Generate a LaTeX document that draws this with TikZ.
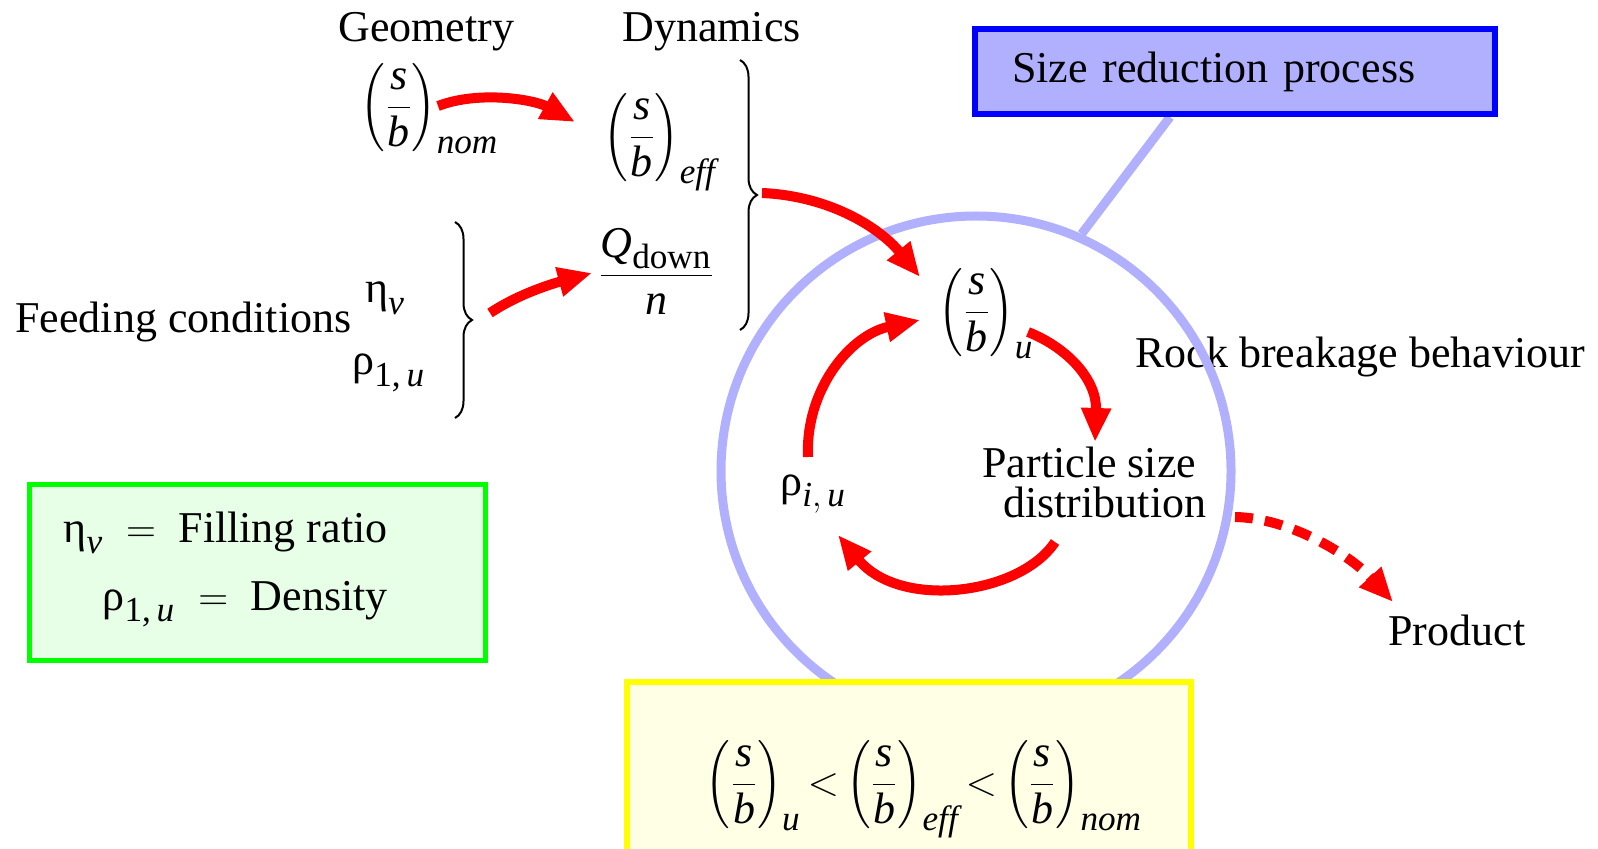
\documentclass[tikz,border=0pt]{standalone}
\usepackage{amsmath}
\usepackage{graphicx}
\usepackage[no-math]{fontspec}
\setmainfont{Liberation Serif}
\newfontfamily\tms{Liberation Serif}
\usetikzlibrary{arrows.meta,decorations.pathreplacing}
\DeclareMathSizes{22}{22}{17.6}{13.2}
\definecolor{rockblue}{RGB}{176,176,255}
\definecolor{boxblue}{RGB}{0,0,255}
\definecolor{lgreen}{RGB}{230,255,230}
\definecolor{bgreen}{RGB}{0,255,0}
\definecolor{lyellow}{RGB}{255,255,230}
\definecolor{byellow}{RGB}{255,255,0}
\newcommand{\mi}[1]{\text{\tms\itshape #1}}
\newcommand{\mr}[1]{\text{\tms #1}}
\newcommand{\lpar}{\vcenter{\hbox{\scalebox{1}[1.18]{$\Bigl($}}}}
\newcommand{\rpar}{\vcenter{\hbox{\scalebox{1}[1.18]{$\Bigr)$}}}}
\newcommand{\sbfrac}{\mathopen{\lpar}\dfrac{\mi{s}}{\mi{b}}\mathclose{\rpar}}
\begin{document}
\begin{tikzpicture}[x=0.5pt,y=-0.5pt,
  every node/.style={font=\tms\fontsize{22}{26.4}\selectfont, inner sep=0pt},
  redarrow/.style={draw=red, line width=5pt, -{Triangle[length=17pt,width=14pt]}},
  reddash/.style={redarrow, dash pattern=on 9pt off 6pt},
  bracestyle/.style={decorate, decoration={brace, amplitude=8.5pt}, line width=1pt},
  txt/.style={anchor=base west}]
\useasboundingbox (0,0) rectangle (1598,849);

% texts
\node[txt] (geo) at (338,42) {Geometry};
\node[txt] (dyn) at (622,42) {Dynamics};
\node[txt] (nom) at (360,118) {$\sbfrac_{\mi{nom}}$};
\node[txt] (eff) at (603,148) {$\sbfrac_{\mi{eff}}$};
\node[anchor=base] (qdn) at (656,286) {$\dfrac{\mi{Q}_{\mr{down}}}{\mi{n}}$};
\node[txt] (feed) at (15,333) {Feeding conditions};
\node[txt] (eta) at (365,303) {$\mr{η}_{\mi{v}}$};
\node[txt] (rho1) at (352,375) {$\mr{ρ}_{\mr{1,}\,\mi{u}}$};
\node[txt] (sbu) at (938,323) {$\sbfrac_{\mi{u}}$};
\node[txt] (rhoi) at (780,495) {$\mr{ρ}_{\mi{i},\,\mi{u}}$};
\node[txt] (psd1) at (982,477) {Particle size};
\node[txt] (psd2) at (1003,517) {distribution};
\node[txt] (rock) at (1135,368) {Rock breakage behaviour};
\node[txt] (prod) at (1388,645) {Product};

% braces
\draw[bracestyle] (740,60) -- (740,330);
\draw[bracestyle] (455,222) -- (455,418);

% circle and process box
\node[circle, draw=rockblue, line width=4.5pt, minimum size=255pt] (rb) at (976,471) {};
\draw[rockblue, line width=4.5pt] ([xshift=-32.5pt]1235,117) -- (rb.66);
\node[draw=boxblue, fill=rockblue, line width=3pt, minimum width=260pt, minimum height=42.5pt,
      text width=223pt, align=left, inner xsep=18.5pt] (srp) at (1235,71.5) {Size reduction process};

% legend box
\node[draw=bgreen, fill=lgreen, line width=2.5pt, minimum width=228pt, minimum height=88pt] (legend) at (257.5,572.5) {};
\node[anchor=base east] (leg1) at (388,542) {$\mr{η}_{\mi{v}}\;=\;$ Filling ratio};
\node[anchor=base east] (leg2) at (388,610) {$\mr{ρ}_{\mr{1,}\,\mi{u}}\;=\;$ Density};

% inequality box
\node[draw=byellow, fill=lyellow, line width=3pt, minimum width=282pt, minimum height=100pt, anchor=north] (ineqbox) at (909,679) {};
\node[anchor=base] (ineq) at (924,795) {$\sbfrac_{\mi{u}}\,{<}\,\sbfrac_{\mi{eff}}\,{<}\,\sbfrac_{\mi{nom}}$};

% arrows
\coordinate (a1s) at (438,106); \coordinate (a1e) at (575,122);
\draw[redarrow] (a1s) .. controls (480,90) and (535,100) .. (a1e);
\coordinate (a2s) at (490,313); \coordinate (a2e) at (592,273);
\draw[redarrow] (a2s) .. controls (520,293) and (555,283) .. (a2e);
\coordinate (a3s) at (762,193); \coordinate (a3e) at (920,277);
\draw[redarrow] (a3s) .. controls (830,196) and (880,228) .. (a3e);
\coordinate (a4s) at (1028,332); \coordinate (a4e) at (1095,442);
\draw[redarrow] (a4s) .. controls (1068,348) and (1097,380) .. (a4e);
\coordinate (a5s) at (1055,542); \coordinate (a5e) at (838,535);
\draw[redarrow] (a5s) .. controls (1020,595) and (900,610) .. (a5e);
\coordinate (a6s) at (808,457); \coordinate (a6e) at (920,320);
\draw[redarrow] (a6s) .. controls (805,390) and (850,335) .. (a6e);
\coordinate (a7s) at (1235,517); \coordinate (a7e) at (1393,602);
\draw[reddash] (a7s) .. controls (1290,518) and (1350,555) .. (a7e);
\end{tikzpicture}
\end{document}
